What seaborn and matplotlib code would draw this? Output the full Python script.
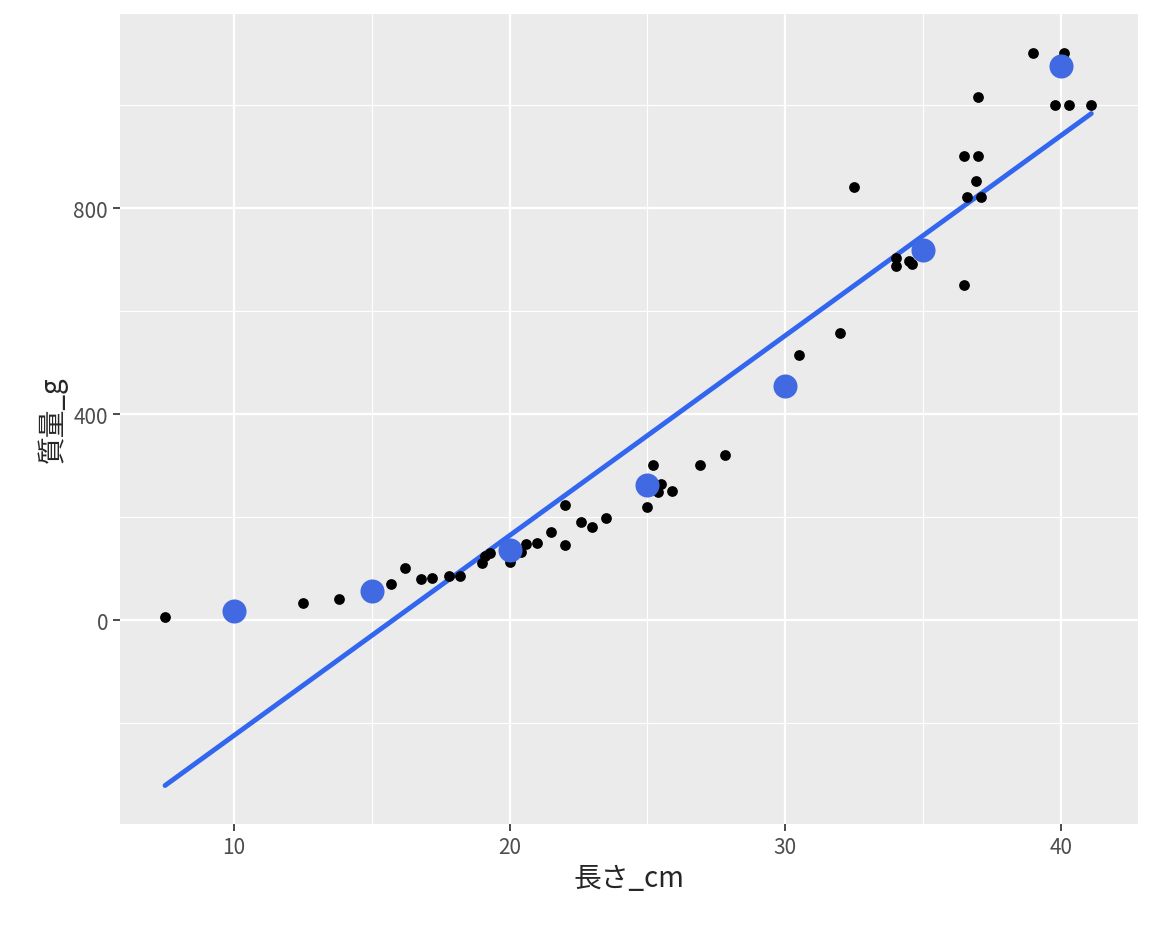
import numpy as np
import pandas as pd
import matplotlib.pyplot as plt
from matplotlib.ticker import MultipleLocator
import seaborn as sns

length_cm = [7.5, 12.5, 13.8, 15.7, 16.2, 16.8, 17.2, 17.8, 18.2, 19.0, 19.1, 19.3,
             20.0, 20.4, 20.6, 21.0, 21.5, 22.0, 22.0, 22.6, 23.0, 23.5, 25.0, 25.2,
             25.5, 25.4, 25.9, 26.9, 27.8, 30.5, 32.0, 32.5, 34.0, 34.0, 34.5, 34.6,
             36.5, 36.5, 37.0, 36.6, 37.1, 36.9, 37.0, 39.0, 40.1, 39.8, 40.3, 41.1]
mass_g = [6, 33, 41, 70, 101, 80, 82, 85, 85, 110, 125, 130,
          113, 132, 147, 150, 171, 223, 146, 190, 181, 198, 219, 301,
          264, 249, 250, 301, 320, 514, 557, 841, 703, 687, 697, 691,
          650, 901, 901, 821, 821, 852, 1016, 1101, 1101, 1000, 1000, 1000]

# predicted points
pred_len = [10, 15, 20, 25, 30, 35, 40]
pred_mass = [18, 56, 136, 262, 454, 718, 1076]

df = pd.DataFrame({"長さ_cm": length_cm, "質量_g": mass_g})
pred = pd.DataFrame({"長さ_cm": pred_len, "質量_g": pred_mass})

sns.set_theme(style="darkgrid", rc={"axes.facecolor": "#EBEBEB", "grid.color": "white"})
plt.rcParams['font.family'] = ['Noto Sans CJK JP', 'DejaVu Sans']

fig, ax = plt.subplots(figsize=(11.52, 9.28), dpi=100)
sns.regplot(data=df, x="長さ_cm", y="質量_g", ci=None, ax=ax,
            scatter_kws={"color": "black", "s": 60, "zorder": 3, "linewidths": 0, "alpha": 1},
            line_kws={"color": "#3366EE", "lw": 3.5, "zorder": 2})
sns.scatterplot(data=pred, x="長さ_cm", y="質量_g", color="#4169E1", s=300,
                linewidth=0, zorder=4, ax=ax)

ax.set_xlim(5.86, 42.8)
ax.set_ylim(-396, 1177)
ax.set_xticks([10, 20, 30, 40])
ax.set_yticks([0, 400, 800])
ax.xaxis.set_minor_locator(MultipleLocator(5))
ax.yaxis.set_minor_locator(MultipleLocator(200))
ax.grid(which="major", color="white", lw=1.6)
ax.grid(which="minor", color="white", lw=0.8)
ax.tick_params(axis="both", which="major", labelsize=15, labelcolor="#4D4D4D",
               length=5, color="#333333", left=True, bottom=True)
ax.tick_params(which="minor", length=0)
ax.set_xlabel("長さ_cm", fontsize=20)
ax.set_ylabel("質量_g", fontsize=20)
for s in ax.spines.values():
    s.set_visible(False)

fig.subplots_adjust(left=0.104, right=0.988, top=0.984, bottom=0.111)
fig.savefig("out.png")
